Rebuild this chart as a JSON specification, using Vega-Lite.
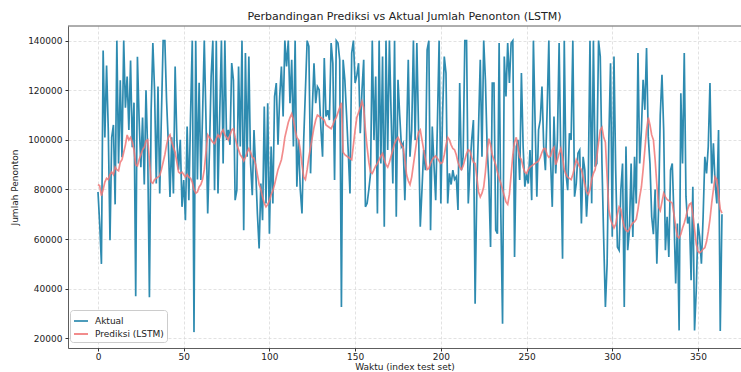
{
"$schema": "https://vega.github.io/schema/vega-lite/v6.json",
"autosize": {"type": "none"},
"width": 673, "height": 322,
"padding": {"left": 68, "top": 26, "right": 0, "bottom": 24},
"background": "white",
"title": {"text": "Perbandingan Prediksi vs Aktual Jumlah Penonton (LSTM)", "fontSize": 11, "fontWeight": "normal", "font": "DejaVu Sans", "color": "#222", "offset": 4},
"config": {
  "view": {"stroke": null},
  "font": "DejaVu Sans",
  "axis": {"labelFont": "DejaVu Sans", "labelFontSize": 9, "labelColor": "#222", "titleFont": "DejaVu Sans", "titleFontSize": 9, "titleFontWeight": "normal", "titleColor": "#222", "tickColor": "#333", "tickSize": 3, "domainColor": "#333", "domainWidth": 0.8, "gridColor": "#dadada", "gridDash": [3, 2], "gridWidth": 0.8}
},
"data": {"values": [
{"t":0,"a":79000,"p":82000},{"t":1,"a":66000,"p":81500},{"t":2,"a":50000,"p":77500},{"t":3,"a":136000,"p":80000},{"t":4,"a":101000,"p":83000},{"t":5,"a":130000,"p":84500},{"t":6,"a":104000,"p":84000},{"t":7,"a":59500,"p":86000},{"t":8,"a":101000,"p":87000},{"t":9,"a":106000,"p":86000},
{"t":10,"a":74000,"p":89000},{"t":11,"a":140000,"p":88000},{"t":12,"a":90500,"p":87500},{"t":13,"a":124000,"p":91000},{"t":14,"a":93000,"p":92000},{"t":15,"a":140000,"p":95000},{"t":16,"a":113000,"p":98000},{"t":17,"a":125500,"p":102000},{"t":18,"a":104000,"p":100000},{"t":19,"a":132000,"p":101000},
{"t":20,"a":97000,"p":99000},{"t":21,"a":115000,"p":96000},{"t":22,"a":37000,"p":90000},{"t":23,"a":133500,"p":89500},{"t":24,"a":108000,"p":92000},{"t":25,"a":89000,"p":94000},{"t":26,"a":109000,"p":96000},{"t":27,"a":82000,"p":97000},{"t":28,"a":120000,"p":99500},{"t":29,"a":95000,"p":100000},
{"t":30,"a":36600,"p":92000},{"t":31,"a":112000,"p":83000},{"t":32,"a":139000,"p":82500},{"t":33,"a":120000,"p":84000},{"t":34,"a":82400,"p":84500},{"t":35,"a":121500,"p":85000},{"t":36,"a":78400,"p":85500},{"t":37,"a":110000,"p":88000},{"t":38,"a":140000,"p":91000},{"t":39,"a":140000,"p":94000},
{"t":40,"a":116000,"p":98000},{"t":41,"a":99000,"p":101000},{"t":42,"a":77000,"p":102000},{"t":43,"a":101000,"p":99000},{"t":44,"a":78400,"p":97000},{"t":45,"a":129600,"p":95000},{"t":46,"a":100000,"p":91000},{"t":47,"a":88000,"p":87000},{"t":48,"a":100000,"p":86500},{"t":49,"a":73000,"p":87000},
{"t":50,"a":83800,"p":86000},{"t":51,"a":67600,"p":85000},{"t":52,"a":105400,"p":86000},{"t":53,"a":75700,"p":85000},{"t":54,"a":110000,"p":84500},{"t":55,"a":140000,"p":83000},{"t":56,"a":22500,"p":80000},{"t":57,"a":140000,"p":78500},{"t":58,"a":84000,"p":79000},{"t":59,"a":123000,"p":81000},
{"t":60,"a":83800,"p":82000},{"t":61,"a":110000,"p":84000},{"t":62,"a":140000,"p":88000},{"t":63,"a":108000,"p":95000},{"t":64,"a":70300,"p":102000},{"t":65,"a":95000,"p":101000},{"t":66,"a":125500,"p":100000},{"t":67,"a":140000,"p":99000},{"t":68,"a":79700,"p":98500},{"t":69,"a":140000,"p":100500},
{"t":70,"a":78400,"p":102000},{"t":71,"a":110000,"p":101000},{"t":72,"a":140000,"p":103000},{"t":73,"a":90500,"p":104000},{"t":74,"a":140000,"p":102000},{"t":75,"a":100000,"p":101000},{"t":76,"a":104000,"p":100000},{"t":77,"a":98000,"p":102000},{"t":78,"a":131000,"p":104000},{"t":79,"a":124000,"p":104500},
{"t":80,"a":75700,"p":101000},{"t":81,"a":79700,"p":98000},{"t":82,"a":129600,"p":96000},{"t":83,"a":97300,"p":94000},{"t":84,"a":140000,"p":93000},{"t":85,"a":63600,"p":91500},{"t":86,"a":135000,"p":93000},{"t":87,"a":93200,"p":95000},{"t":88,"a":133600,"p":96500},{"t":89,"a":90500,"p":95000},
{"t":90,"a":77700,"p":93000},{"t":91,"a":104000,"p":92500},{"t":92,"a":87800,"p":90000},{"t":93,"a":70000,"p":86000},{"t":94,"a":56200,"p":82000},{"t":95,"a":82400,"p":80000},{"t":96,"a":67600,"p":77000},{"t":97,"a":113400,"p":74500},{"t":98,"a":74400,"p":73000},{"t":99,"a":114800,"p":74000},
{"t":100,"a":62200,"p":75500},{"t":101,"a":97300,"p":78000},{"t":102,"a":74400,"p":79500},{"t":103,"a":117500,"p":82000},{"t":104,"a":122900,"p":85000},{"t":105,"a":98000,"p":88000},{"t":106,"a":117500,"p":90000},{"t":107,"a":129600,"p":92000},{"t":108,"a":109400,"p":96000},{"t":109,"a":140000,"p":101000},
{"t":110,"a":129600,"p":104000},{"t":111,"a":140000,"p":107000},{"t":112,"a":114800,"p":109000},{"t":113,"a":132300,"p":110500},{"t":114,"a":97300,"p":108000},{"t":115,"a":140000,"p":104000},{"t":116,"a":81100,"p":101000},{"t":117,"a":100000,"p":100000},{"t":118,"a":80000,"p":96000},{"t":119,"a":70300,"p":90000},
{"t":120,"a":100000,"p":85000},{"t":121,"a":120000,"p":84000},{"t":122,"a":140000,"p":88000},{"t":123,"a":137700,"p":93000},{"t":124,"a":86500,"p":97000},{"t":125,"a":112000,"p":101000},{"t":126,"a":130900,"p":105000},{"t":127,"a":114800,"p":108000},{"t":128,"a":121500,"p":110000},{"t":129,"a":120200,"p":109500},
{"t":130,"a":105000,"p":109000},{"t":131,"a":93200,"p":108500},{"t":132,"a":133000,"p":108000},{"t":133,"a":109400,"p":106000},{"t":134,"a":112000,"p":105500},{"t":135,"a":108000,"p":105000},{"t":136,"a":139000,"p":104500},{"t":137,"a":130900,"p":106000},{"t":138,"a":83800,"p":108000},{"t":139,"a":140000,"p":109000},
{"t":140,"a":139000,"p":111000},{"t":141,"a":132300,"p":113000},{"t":142,"a":32600,"p":115000},{"t":143,"a":132300,"p":95000},{"t":144,"a":124200,"p":94000},{"t":145,"a":110000,"p":93500},{"t":146,"a":95000,"p":93000},{"t":147,"a":78400,"p":92500},{"t":148,"a":135000,"p":92000},{"t":149,"a":140000,"p":98000},
{"t":150,"a":122900,"p":104000},{"t":151,"a":126000,"p":109000},{"t":152,"a":130900,"p":111000},{"t":153,"a":102700,"p":113000},{"t":154,"a":120000,"p":115500},{"t":155,"a":132300,"p":113000},{"t":156,"a":73000,"p":104000},{"t":157,"a":74400,"p":97000},{"t":158,"a":80000,"p":91000},{"t":159,"a":86500,"p":87000},
{"t":160,"a":140000,"p":86500},{"t":161,"a":100000,"p":88000},{"t":162,"a":125500,"p":89500},{"t":163,"a":70300,"p":90500},{"t":164,"a":140000,"p":92000},{"t":165,"a":90500,"p":93500},{"t":166,"a":133600,"p":94500},{"t":167,"a":65000,"p":92000},{"t":168,"a":140000,"p":90000},{"t":169,"a":95900,"p":89000},
{"t":170,"a":140000,"p":91000},{"t":171,"a":110000,"p":93500},{"t":172,"a":82400,"p":96000},{"t":173,"a":140000,"p":98500},{"t":174,"a":69000,"p":100000},{"t":175,"a":124200,"p":101000},{"t":176,"a":110000,"p":99500},{"t":177,"a":97300,"p":98000},{"t":178,"a":98600,"p":97000},{"t":179,"a":75700,"p":92000},
{"t":180,"a":100000,"p":86000},{"t":181,"a":132300,"p":83500},{"t":182,"a":93200,"p":82000},{"t":183,"a":104000,"p":85000},{"t":184,"a":140000,"p":90000},{"t":185,"a":100000,"p":95000},{"t":186,"a":139000,"p":100000},{"t":187,"a":104000,"p":103000},{"t":188,"a":65000,"p":104000},{"t":189,"a":80000,"p":100000},
{"t":190,"a":95900,"p":96000},{"t":191,"a":87800,"p":92000},{"t":192,"a":136300,"p":88000},{"t":193,"a":140000,"p":88500},{"t":194,"a":63600,"p":90500},{"t":195,"a":105400,"p":92000},{"t":196,"a":90000,"p":93000},{"t":197,"a":75700,"p":93500},{"t":198,"a":106700,"p":92500},{"t":199,"a":140000,"p":91500},
{"t":200,"a":74400,"p":90500},{"t":201,"a":110000,"p":91000},{"t":202,"a":133600,"p":94000},{"t":203,"a":126900,"p":98000},{"t":204,"a":74400,"p":101000},{"t":205,"a":86500,"p":100000},{"t":206,"a":82000,"p":98000},{"t":207,"a":87800,"p":96500},{"t":208,"a":84000,"p":96000},{"t":209,"a":85100,"p":94000},
{"t":210,"a":71700,"p":91000},{"t":211,"a":122900,"p":89000},{"t":212,"a":87800,"p":88000},{"t":213,"a":93200,"p":89500},{"t":214,"a":140000,"p":92000},{"t":215,"a":140000,"p":94500},{"t":216,"a":74400,"p":96000},{"t":217,"a":89200,"p":95500},{"t":218,"a":100000,"p":93000},{"t":219,"a":108000,"p":91000},
{"t":220,"a":33900,"p":90500},{"t":221,"a":81100,"p":85000},{"t":222,"a":105000,"p":79000},{"t":223,"a":132300,"p":77000},{"t":224,"a":93200,"p":78500},{"t":225,"a":140000,"p":81000},{"t":226,"a":124200,"p":87000},{"t":227,"a":97300,"p":95000},{"t":228,"a":83800,"p":100500},{"t":229,"a":56800,"p":98000},
{"t":230,"a":122900,"p":94000},{"t":231,"a":122900,"p":92000},{"t":232,"a":63600,"p":90000},{"t":233,"a":62200,"p":87000},{"t":234,"a":139000,"p":84500},{"t":235,"a":70000,"p":82500},{"t":236,"a":25900,"p":80000},{"t":237,"a":133600,"p":77500},{"t":238,"a":117500,"p":75000},{"t":239,"a":139000,"p":74000},
{"t":240,"a":122900,"p":78000},{"t":241,"a":139000,"p":86000},{"t":242,"a":140000,"p":94000},{"t":243,"a":52800,"p":99000},{"t":244,"a":97300,"p":101000},{"t":245,"a":100000,"p":97000},{"t":246,"a":83800,"p":93000},{"t":247,"a":126900,"p":92000},{"t":248,"a":97300,"p":89000},{"t":249,"a":81100,"p":87000},
{"t":250,"a":86500,"p":86500},{"t":251,"a":82400,"p":88000},{"t":252,"a":95900,"p":89000},{"t":253,"a":75700,"p":89500},{"t":254,"a":140000,"p":90000},{"t":255,"a":106700,"p":90500},{"t":256,"a":77100,"p":91000},{"t":257,"a":104000,"p":91500},{"t":258,"a":108000,"p":93000},{"t":259,"a":121500,"p":95000},
{"t":260,"a":97300,"p":96500},{"t":261,"a":87800,"p":96500},{"t":262,"a":112000,"p":94000},{"t":263,"a":140000,"p":93000},{"t":264,"a":91900,"p":93500},{"t":265,"a":73000,"p":96000},{"t":266,"a":109400,"p":97000},{"t":267,"a":86500,"p":90000},{"t":268,"a":100000,"p":92000},{"t":269,"a":139000,"p":94500},
{"t":270,"a":91900,"p":96500},{"t":271,"a":52100,"p":93000},{"t":272,"a":140000,"p":88000},{"t":273,"a":86500,"p":86000},{"t":274,"a":79700,"p":85000},{"t":275,"a":102700,"p":84500},{"t":276,"a":100000,"p":84000},{"t":277,"a":140000,"p":86000},{"t":278,"a":77100,"p":89000},{"t":279,"a":82400,"p":92000},
{"t":280,"a":94600,"p":90500},{"t":281,"a":95900,"p":89000},{"t":282,"a":66300,"p":88000},{"t":283,"a":93200,"p":85000},{"t":284,"a":87800,"p":82000},{"t":285,"a":69000,"p":79000},{"t":286,"a":82400,"p":78000},{"t":287,"a":140000,"p":80000},{"t":288,"a":74400,"p":84000},{"t":289,"a":140000,"p":86500},
{"t":290,"a":89200,"p":88000},{"t":291,"a":90500,"p":93000},{"t":292,"a":140000,"p":99000},{"t":293,"a":133600,"p":104000},{"t":294,"a":90500,"p":105000},{"t":295,"a":60000,"p":101000},{"t":296,"a":32600,"p":99000},{"t":297,"a":50100,"p":85000},{"t":298,"a":100000,"p":72000},{"t":299,"a":130900,"p":68000},
{"t":300,"a":60900,"p":66000},{"t":301,"a":133600,"p":64500},{"t":302,"a":87800,"p":66000},{"t":303,"a":56800,"p":70000},{"t":304,"a":55500,"p":73000},{"t":305,"a":79700,"p":72000},{"t":306,"a":90500,"p":68000},{"t":307,"a":32600,"p":65000},{"t":308,"a":97300,"p":63500},{"t":309,"a":55500,"p":63000},
{"t":310,"a":63600,"p":64000},{"t":311,"a":90500,"p":65500},{"t":312,"a":60900,"p":66500},{"t":313,"a":93200,"p":67000},{"t":314,"a":74400,"p":68000},{"t":315,"a":135000,"p":72000},{"t":316,"a":90500,"p":77000},{"t":317,"a":104000,"p":81000},{"t":318,"a":124200,"p":88000},{"t":319,"a":112100,"p":96000},
{"t":320,"a":137000,"p":104000},{"t":321,"a":101300,"p":109000},{"t":322,"a":90500,"p":106000},{"t":323,"a":69000,"p":102000},{"t":324,"a":62000,"p":100000},{"t":325,"a":80000,"p":92000},{"t":326,"a":50100,"p":82000},{"t":327,"a":72000,"p":73000},{"t":328,"a":110000,"p":71500},{"t":329,"a":126200,"p":75000},
{"t":330,"a":104000,"p":78500},{"t":331,"a":55500,"p":77000},{"t":332,"a":69000,"p":76000},{"t":333,"a":52800,"p":75500},{"t":334,"a":87800,"p":75000},{"t":335,"a":90500,"p":74500},{"t":336,"a":69000,"p":70000},{"t":337,"a":42100,"p":65000},{"t":338,"a":66300,"p":61000},{"t":339,"a":23200,"p":60500},
{"t":340,"a":118800,"p":62000},{"t":341,"a":90500,"p":64500},{"t":342,"a":135000,"p":66500},{"t":343,"a":77100,"p":69000},{"t":344,"a":66300,"p":72000},{"t":345,"a":69000,"p":74000},{"t":346,"a":43400,"p":74500},{"t":347,"a":81100,"p":70000},{"t":348,"a":23200,"p":64000},{"t":349,"a":39400,"p":58000},
{"t":350,"a":66300,"p":55000},{"t":351,"a":60900,"p":54500},{"t":352,"a":50100,"p":55000},{"t":353,"a":69000,"p":56000},{"t":354,"a":93200,"p":56500},{"t":355,"a":86500,"p":59000},{"t":356,"a":97300,"p":63000},{"t":357,"a":122900,"p":68000},{"t":358,"a":82400,"p":74500},{"t":359,"a":98600,"p":80000},
{"t":360,"a":82400,"p":85000},{"t":361,"a":74400,"p":84000},{"t":362,"a":104000,"p":78000},{"t":363,"a":23000,"p":72000},{"t":364,"a":70000,"p":70500}
]},
"layer": [
  {"mark": {"type": "line", "strokeWidth": 1.7, "clip": true},
   "encoding": {
     "x": {"field": "t", "type": "quantitative", "scale": {"domain": [-17.5, 375.1], "nice": false, "zero": false},
        "axis": {"values": [0, 50, 100, 150, 200, 250, 300, 350], "title": "Waktu (index test set)", "titlePadding": 1, "labelPadding": 1}},
     "y": {"field": "a", "type": "quantitative", "scale": {"domain": [16100, 145900], "nice": false, "zero": false},
           "axis": {"values": [20000, 40000, 60000, 80000, 100000, 120000, 140000], "format": "d", "title": "Jumlah Penonton", "titlePadding": 8, "labelPadding": 3}},
     "color": {"datum": "Aktual", "type": "nominal",
       "scale": {"domain": ["Aktual", "Prediksi (LSTM)"], "range": ["#2E8BB0", "#F07878"]},
       "legend": {"title": null, "orient": "none", "legendX": 2, "legendY": 284, "symbolType": "stroke", "symbolSize": 196, "symbolStrokeWidth": 2, "labelFontSize": 9, "labelFont": "DejaVu Sans", "labelColor": "#222", "labelOffset": 6, "padding": 3, "rowPadding": 0, "strokeColor": "#cccccc", "fillColor": "white", "cornerRadius": 3}}
   }},
  {"mark": {"type": "line", "strokeWidth": 1.7, "opacity": 0.85, "clip": true},
   "encoding": {
     "x": {"field": "t", "type": "quantitative"},
     "y": {"field": "p", "type": "quantitative"},
     "color": {"datum": "Prediksi (LSTM)", "type": "nominal"}
   }},
  {"data": {"values": [{}]},
   "mark": {"type": "rule", "color": "#333", "strokeWidth": 0.8},
   "encoding": {"y": {"datum": 145900, "type": "quantitative"}}}
]
}
